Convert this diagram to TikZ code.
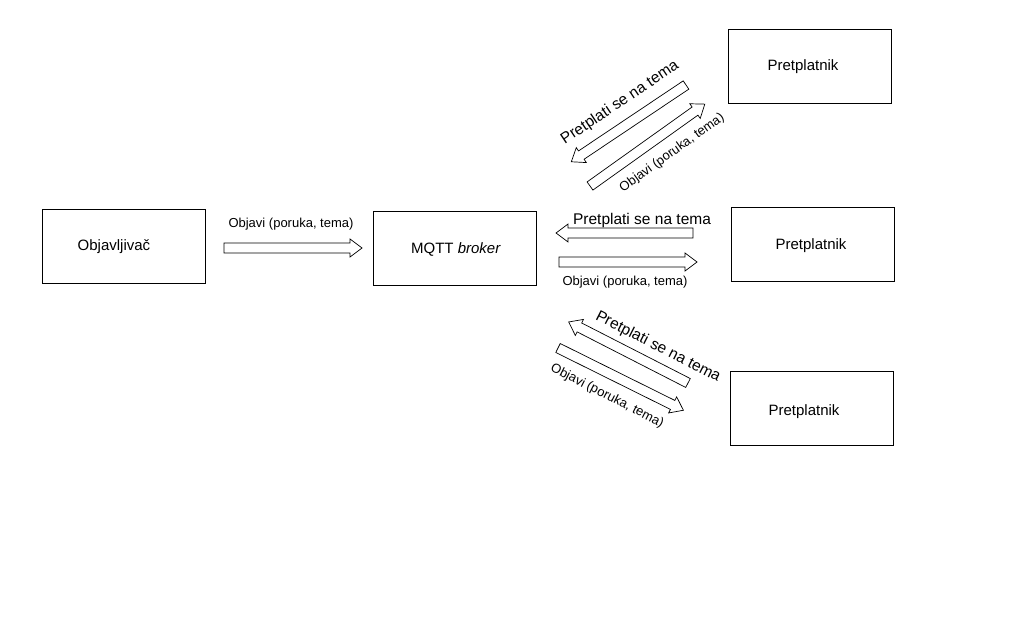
\documentclass[tikz,border=0pt]{standalone}
\usepackage{fontspec}
\setmainfont{Liberation Sans}
\begin{document}
\begin{tikzpicture}[x=1pt,y=-1pt,
  box/.style={draw,line width=0.8pt,minimum width=163pt,minimum height=74pt,inner sep=0pt},
  boxtxt/.style={font=\fontsize{15}{17}\selectfont,inner sep=0pt},
  lbl/.style={font=\fontsize{13}{15}\selectfont,inner sep=0pt},
  biglbl/.style={font=\fontsize{15.5}{17}\selectfont,inner sep=0pt},
  pics/barrow/.style={code={
    \draw[line width=0.7pt,fill=white] (0,-5) -- ({#1-12},-5) -- ({#1-12},-9) -- (#1,0) -- ({#1-12},9) -- ({#1-12},5) -- (0,5) -- cycle;
  }}]
\useasboundingbox (0,0) rectangle (1021,626);
% boxes
\node[box] (pub) at (123.5,246) {};
\node[box] (broker) at (454.5,248) {};
\node[box] (sub1) at (809.5,66) {};
\node[box] (sub2) at (812.5,244) {};
\node[box] (sub3) at (811.5,408) {};
\node[boxtxt] (tpub) at (114,247) {Objavljivač};
\node[boxtxt] (tbroker) at (456,249) {MQTT \textit{broker}};
\node[boxtxt] (tsub1) at (803,67) {Pretplatnik};
\node[boxtxt] (tsub2) at (811,246) {Pretplatnik};
\node[boxtxt] (tsub3) at (804,412) {Pretplatnik};
% arrows
\pic at (224,248) {barrow=138};
\node[lbl] (l0) at (291,224) {Objavi (poruka, tema)};
\pic[rotate=180] at (693,233) {barrow=137};
\node[biglbl] (l1) at (642,220) {Pretplati se na tema};
\pic at (559,262) {barrow=138};
\node[lbl] (l2) at (625,282) {Objavi (poruka, tema)};
% top diagonal
\pic[rotate=213.8] at (686,85) {barrow=138};
\node[biglbl,rotate=33.8] (l3) at (620,103) {Pretplati se na tema};
\pic[rotate=35.5] at (590,186) {barrow=141};
\node[lbl,rotate=35.5] (l4) at (672,153) {Objavi (poruka, tema)};
% bottom diagonal
\pic[rotate=152.9] at (688,383) {barrow=134};
\node[biglbl,rotate=-27] (l5) at (658,347) {Pretplati se na tema};
\pic[rotate=-26.4] at (558,348) {barrow=140};
\node[lbl,rotate=-27] (l6) at (607,396) {Objavi (poruka, tema)};
\end{tikzpicture}
\end{document}
